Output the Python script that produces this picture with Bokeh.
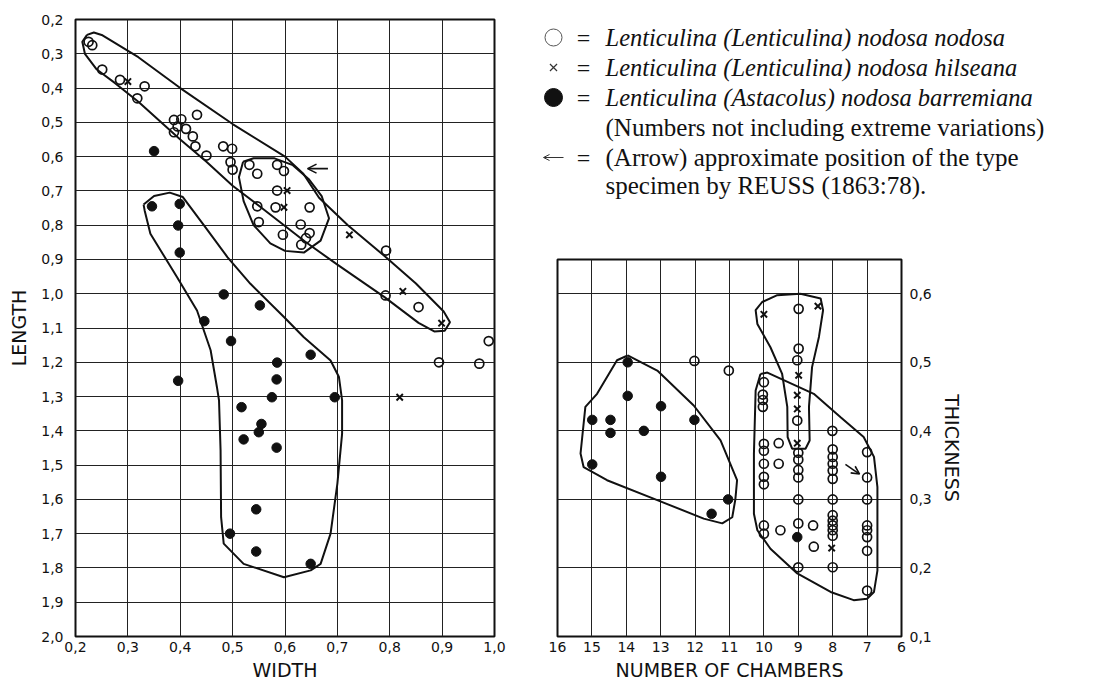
from bokeh.plotting import figure
from bokeh.layouts import row, column
from bokeh.models import Range1d, FixedTicker, Arrow, OpenHead
from bokeh.embed import file_html
from bokeh.resources import INLINE
from bokeh.core.properties import value

# ---------------- data: WIDTH / LENGTH (left panel) ----------------
width_ticks = [0.2, 0.3, 0.4, 0.5, 0.6, 0.7, 0.8, 0.9, 1.0]
width_labels = ["0,2", "0,3", "0,4", "0,5", "0,6", "0,7", "0,8", "0,9", "1,0"]
length_ticks = [0.2, 0.3, 0.4, 0.5, 0.6, 0.7, 0.8, 0.9, 1.0, 1.1, 1.2, 1.3, 1.4,
                1.5, 1.6, 1.7, 1.8, 1.9, 2.0]
length_labels = ["0,2", "0,3", "0,4", "0,5", "0,6", "0,7", "0,8", "0,9", "1,0", "1,1",
                 "1,2", "1,3", "1,4", "1,5", "1,6", "1,7", "1,8", "1,9", "2,0"]

nodosa_w = [0.225, 0.232, 0.251, 0.285, 0.332, 0.318, 0.432, 0.388, 0.402, 0.395, 0.411,
            0.388, 0.424, 0.429, 0.45, 0.482, 0.499, 0.496, 0.50, 0.532, 0.547, 0.585,
            0.598, 0.585, 0.547, 0.582, 0.647, 0.55, 0.596, 0.63, 0.647, 0.64, 0.631,
            0.793, 0.792, 0.855, 0.989, 0.894, 0.971]
nodosa_l = [0.265, 0.275, 0.346, 0.376, 0.395, 0.43, 0.478, 0.493, 0.491, 0.512, 0.519,
            0.529, 0.541, 0.570, 0.597, 0.570, 0.577, 0.616, 0.638, 0.624, 0.65, 0.624,
            0.642, 0.699, 0.745, 0.748, 0.748, 0.791, 0.828, 0.798, 0.823, 0.838, 0.857,
            0.874, 1.005, 1.039, 1.138, 1.2, 1.204]

hilseana_w = [0.30, 0.604, 0.598, 0.723, 0.825, 0.899, 0.819]
hilseana_l = [0.381, 0.699, 0.748, 0.828, 0.993, 1.086, 1.302]

barremiana_w = [0.35, 0.346, 0.399, 0.396, 0.399, 0.483, 0.552, 0.446, 0.497, 0.649, 0.585,
                0.584, 0.396, 0.575, 0.695, 0.517, 0.555, 0.55, 0.521, 0.584, 0.545, 0.495,
                0.545, 0.649]
barremiana_l = [0.584, 0.745, 0.738, 0.801, 0.88, 1.002, 1.034, 1.08, 1.138, 1.178, 1.201,
                1.25, 1.254, 1.302, 1.302, 1.331, 1.38, 1.404, 1.425, 1.449, 1.629, 1.70,
                1.752, 1.788]

# envelopes (hand-drawn outlines)
env_nodosa_w = [0.222, 0.235, 0.25, 0.32, 0.40, 0.50, 0.60, 0.635, 0.665, 0.72, 0.79, 0.85,
                0.903, 0.915, 0.905, 0.885, 0.855, 0.79, 0.70, 0.64, 0.56, 0.50, 0.45, 0.40,
                0.32, 0.275, 0.24, 0.218, 0.213, 0.222]
env_nodosa_l = [0.245, 0.238, 0.245, 0.31, 0.40, 0.505, 0.60, 0.65, 0.72, 0.80, 0.89, 0.97,
                1.052, 1.083, 1.108, 1.11, 1.085, 1.01, 0.915, 0.85, 0.755, 0.685, 0.615,
                0.55, 0.44, 0.385, 0.345, 0.30, 0.265, 0.245]
env_type_w = [0.52, 0.54, 0.58, 0.615, 0.645, 0.67, 0.684, 0.668, 0.636, 0.60, 0.572, 0.54,
              0.521, 0.512, 0.52]
env_type_l = [0.615, 0.605, 0.605, 0.625, 0.665, 0.715, 0.78, 0.845, 0.88, 0.875, 0.853,
              0.80, 0.73, 0.66, 0.615]
env_barr_w = [0.33, 0.35, 0.38, 0.405, 0.445, 0.49, 0.534, 0.598, 0.636, 0.687, 0.703, 0.709,
              0.709, 0.70, 0.687, 0.668, 0.649, 0.598, 0.521, 0.483, 0.478, 0.477, 0.474,
              0.47, 0.458, 0.432, 0.394, 0.343, 0.332, 0.33]
env_barr_l = [0.74, 0.715, 0.705, 0.718, 0.80, 0.893, 0.971, 1.068, 1.127, 1.195, 1.243,
              1.311, 1.409, 1.554, 1.70, 1.788, 1.807, 1.827, 1.788, 1.729, 1.652, 1.457,
              1.311, 1.272, 1.165, 1.049, 0.952, 0.825, 0.757, 0.74]

type_arrow_w = [0.682, 0.643]   # start, end
type_arrow_l = [0.635, 0.635]

# ---------------- data: CHAMBERS / THICKNESS (right panel) ----------------
chamber_ticks = [16, 15, 14, 13, 12, 11, 10, 9, 8, 7, 6]
chamber_labels = ["16", "15", "14", "13", "12", "11", "10", "9", "8", "7", "6"]
thick_ticks = [0.1, 0.2, 0.3, 0.4, 0.5, 0.6]
thick_labels = ["0,1", "0,2", "0,3", "0,4", "0,5", "0,6"]

nodosa_ch = [12.02, 11.02, 8.99, 8.99, 9.03, 10.0, 10.03, 10.03, 10.03, 9.03, 8.01,
             10, 10, 10, 10, 10, 10, 10,
             9.57, 9.57, 9.52, 8.57, 8.55,
             9, 9, 9, 9, 9, 9, 9,
             8, 8, 8, 8, 8, 8, 8, 8, 8, 8, 8, 8,
             7, 7, 7, 7, 7, 7, 7, 7]
nodosa_th = [0.502, 0.488, 0.578, 0.52, 0.503, 0.471, 0.453, 0.445, 0.435, 0.415, 0.40,
             0.381, 0.371, 0.352, 0.333, 0.322, 0.262, 0.25,
             0.382, 0.352, 0.255, 0.262, 0.231,
             0.368, 0.358, 0.343, 0.332, 0.30, 0.265, 0.201,
             0.373, 0.362, 0.352, 0.342, 0.33, 0.30, 0.277, 0.269, 0.262, 0.255, 0.247, 0.201,
             0.369, 0.332, 0.30, 0.262, 0.255, 0.245, 0.225, 0.167]

hilseana_ch = [10.0, 8.43, 8.99, 9.03, 9.03, 9.03, 8.03]
hilseana_th = [0.57, 0.582, 0.481, 0.452, 0.432, 0.382, 0.229]

barremiana_ch = [13.96, 13.96, 12.99, 14.99, 14.46, 14.46, 13.49, 12.02, 14.99, 12.99,
                 11.04, 11.52, 9.03]
barremiana_th = [0.50, 0.451, 0.436, 0.416, 0.416, 0.397, 0.40, 0.416, 0.351, 0.333,
                 0.30, 0.279, 0.245]

env_rb_ch = [13.96, 13.1, 12.04, 11.26, 10.78, 10.83, 10.92, 11.21, 11.75, 13.1, 14.56,
             15.24, 15.33, 15.19, 14.85, 14.27, 13.96]
env_rb_th = [0.51, 0.488, 0.437, 0.386, 0.328, 0.30, 0.274, 0.265, 0.272, 0.299, 0.328,
             0.347, 0.367, 0.435, 0.454, 0.503, 0.51]
env_rh_ch = [8.94, 8.35, 8.28, 8.40, 8.60, 8.69, 8.67, 8.79, 9.18, 9.31, 9.32, 9.47, 9.81,
             10.19, 10.24, 10.05, 9.61, 8.94]
env_rh_th = [0.60, 0.593, 0.576, 0.537, 0.493, 0.435, 0.386, 0.374, 0.374, 0.391, 0.435,
             0.483, 0.522, 0.556, 0.576, 0.588, 0.598, 0.60]
env_rn_ch = [10.1, 9.9, 8.55, 7.77, 7.10, 6.80, 6.70, 6.70, 6.80, 7.0, 7.39, 8.06, 9.03,
             9.81, 10.19, 10.29, 10.29, 10.24, 10.1]
env_rn_th = [0.483, 0.485, 0.454, 0.42, 0.391, 0.362, 0.318, 0.196, 0.165, 0.155, 0.153,
             0.165, 0.192, 0.228, 0.255, 0.279, 0.367, 0.459, 0.483]

type_arrow_ch = [7.63, 7.22]
type_arrow_th = [0.351, 0.337]

# ---------------- legend text ----------------
legend_species = ["Lenticulina (Lenticulina) nodosa nodosa",
                  "Lenticulina (Lenticulina) nodosa hilseana",
                  "Lenticulina (Astacolus) nodosa barremiana"]
legend_notes = ["(Numbers not including extreme variations)",
                "(Arrow) approximate position of the type",
                "specimen by REUSS (1863:78)."]

TICK_FONT = "DejaVu Sans"
INK = "#111111"


def style(p):
    p.background_fill_color = "white"
    p.border_fill_color = "white"
    p.outline_line_color = INK
    p.outline_line_width = 2
    p.grid.grid_line_color = "#222222"
    p.grid.grid_line_width = 1
    p.grid.grid_line_alpha = 1.0
    for ax in p.axis:
        ax.axis_line_color = None
        ax.major_tick_line_color = None
        ax.minor_tick_line_color = None
        ax.major_tick_out = 0
        ax.major_tick_in = 0
        ax.major_label_text_font = TICK_FONT
        ax.major_label_text_font_size = "14px"
        ax.major_label_text_color = INK
        ax.axis_label_text_font = TICK_FONT
        ax.axis_label_text_font_style = "normal"
        ax.axis_label_text_font_size = "19px"
        ax.axis_label_text_color = INK


def plot_points(p, ox, oy, xx, xy, fx, fy):
    p.scatter(ox, oy, marker="circle", size=9, fill_color=None, line_color=INK, line_width=1.7)
    p.scatter(xx, xy, marker="x", size=9, line_color=INK, line_width=2)
    p.scatter(fx, fy, marker="circle", size=9.5, fill_color=INK, line_color=INK)


# ---------------- left panel ----------------
p1 = figure(width=514, height=685, x_range=Range1d(0.2, 1.0), y_range=Range1d(2.0, 0.2),
            toolbar_location=None, output_backend="svg", frame_align=False,
            min_border_left=75, min_border_right=20, min_border_top=19, min_border_bottom=49)
style(p1)
p1.xaxis.ticker = FixedTicker(ticks=width_ticks)
p1.yaxis.ticker = FixedTicker(ticks=length_ticks)
p1.xgrid.ticker = FixedTicker(ticks=width_ticks)
p1.ygrid.ticker = FixedTicker(ticks=length_ticks)
p1.xaxis.major_label_overrides = dict(zip(width_ticks, width_labels))
p1.yaxis.major_label_overrides = dict(zip(length_ticks, length_labels))
p1.xaxis.axis_label = "WIDTH"
p1.yaxis.axis_label = "LENGTH"
p1.xaxis.major_label_standoff = 5
p1.xaxis.axis_label_standoff = 4
p1.yaxis.major_label_standoff = 12
p1.yaxis.axis_label_standoff = 8

for ex, ey in [(env_nodosa_w, env_nodosa_l), (env_type_w, env_type_l), (env_barr_w, env_barr_l)]:
    p1.line(ex, ey, line_color=INK, line_width=2)
plot_points(p1, nodosa_w, nodosa_l, hilseana_w, hilseana_l, barremiana_w, barremiana_l)
p1.add_layout(Arrow(end=OpenHead(size=9, line_width=1.6, line_color=INK),
                    x_start=type_arrow_w[0], y_start=type_arrow_l[0],
                    x_end=type_arrow_w[1], y_end=type_arrow_l[1],
                    line_width=1.6, line_color=INK))

# ---------------- right panel ----------------
p2 = figure(width=462, height=485, x_range=Range1d(16, 6), y_range=Range1d(0.1, 0.65),
            y_axis_location="right", toolbar_location=None, output_backend="svg",
            frame_align=False,
            min_border_left=43, min_border_right=75, min_border_top=59, min_border_bottom=49)
style(p2)
p2.xaxis.ticker = FixedTicker(ticks=chamber_ticks)
p2.yaxis.ticker = FixedTicker(ticks=thick_ticks)
p2.xgrid.ticker = FixedTicker(ticks=chamber_ticks)
p2.ygrid.ticker = FixedTicker(ticks=thick_ticks)
p2.xaxis.major_label_overrides = dict(zip(chamber_ticks, chamber_labels))
p2.yaxis.major_label_overrides = dict(zip(thick_ticks, thick_labels))
p2.xaxis.axis_label = "NUMBER OF CHAMBERS"
p2.yaxis.axis_label = "THICKNESS"
p2.xaxis.major_label_standoff = 5
p2.xaxis.axis_label_standoff = 4
p2.yaxis.major_label_standoff = 8
p2.yaxis.axis_label_standoff = 6

for ex, ey in [(env_rb_ch, env_rb_th), (env_rh_ch, env_rh_th), (env_rn_ch, env_rn_th)]:
    p2.line(ex, ey, line_color=INK, line_width=2)
plot_points(p2, nodosa_ch, nodosa_th, hilseana_ch, hilseana_th, barremiana_ch, barremiana_th)
p2.add_layout(Arrow(end=OpenHead(size=8, line_width=1.6, line_color=INK),
                    x_start=type_arrow_ch[0], y_start=type_arrow_th[0],
                    x_end=type_arrow_ch[1], y_end=type_arrow_th[1],
                    line_width=1.6, line_color=INK))

# ---------------- legend panel ----------------
p3 = figure(width=586, height=200, x_range=Range1d(514, 1100), y_range=Range1d(200, 0),
            x_axis_type=None, y_axis_type=None, toolbar_location=None, output_backend="svg",
            frame_align=False,
            min_border=0, min_border_left=0, min_border_right=0, min_border_top=0,
            min_border_bottom=0)
p3.grid.visible = False
p3.outline_line_color = None
p3.background_fill_color = "white"
p3.border_fill_color = "white"

rows_y = [37, 67, 97, 127, 157, 185]
sym_x = 553
p3.scatter([sym_x], [rows_y[0]], marker="circle", size=17, fill_color=None,
           line_color="#555555", line_width=1)
p3.scatter([sym_x], [rows_y[1]], marker="x", size=10, line_color="#333333", line_width=1.2)
p3.scatter([sym_x], [rows_y[2]], marker="circle", size=18, fill_color=INK, line_color=INK)
p3.add_layout(Arrow(end=OpenHead(size=6, line_width=1, line_color="#333333"),
                    x_start=563, y_start=rows_y[4], x_end=543, y_end=rows_y[4],
                    line_width=1, line_color="#333333"))
p3.text([583] * 4, [rows_y[0], rows_y[1], rows_y[2], rows_y[4]], text=["="] * 4,
        text_font=value("Liberation Serif"), text_font_size="24px", text_color=INK,
        text_align="center", text_baseline="middle")
p3.text([605] * 3, rows_y[:3], text=legend_species,
        text_font=value("Liberation Serif"), text_font_style="italic",
        text_font_size="24.5px", text_color=INK, text_align="left", text_baseline="middle")
p3.text([605] * 3, [rows_y[3], rows_y[4], rows_y[5]], text=legend_notes,
        text_font=value("Liberation Serif"),
        text_font_size="25px", text_color=INK, text_align="left", text_baseline="middle")

layout = row(p1, column(p3, p2))
open("out.html", "w").write(file_html(layout, INLINE))
